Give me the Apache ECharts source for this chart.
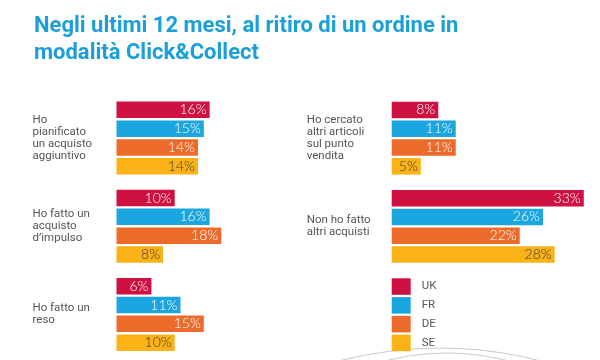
<!DOCTYPE html>
<html>
<head>
<meta charset="utf-8">
<script src="https://cdn.jsdelivr.net/npm/echarts@6/dist/echarts.min.js"></script>
<style>html,body{margin:0;padding:0;background:#fff}#c{width:600px;height:360px}</style>
</head>
<body>
<div id="c"></div>
<script>
// ---- data ----
var titleText = 'Negli ultimi 12 mesi, al ritiro di un ordine in\nmodalità Click&Collect';
var countries = ['UK', 'FR', 'DE', 'SE'];
var leftCategories = ['Ho\npianificato\nun acquisto\naggiuntivo', 'Ho fatto un\nacquisto\nd\u2019impulso', 'Ho fatto un\nreso'];
var rightCategories = ['Ho cercato\naltri articoli\nsul punto\nvendita', 'Non ho fatto\naltri acquisti'];
var ukLeft = [16, 10, 6],  ukRight = [8, 33];
var frLeft = [15, 16, 11], frRight = [11, 26];
var deLeft = [14, 18, 15], deRight = [11, 22];
var seLeft = [14, 8, 10],  seRight = [5, 28];

// ---- styles / layout ----
var colors = ['#cf1141', '#1ba6df', '#ec6b2b', '#fbb217'];
var labelColors = ['#ffffff', '#ffffff', '#ffffff', '#3d3d3d'];
var leftShift = [-6, -11.5, -5.5];
var rightShift = [3.5, -6];
var leftValues = [ukLeft, frLeft, deLeft, seLeft];
var rightValues = [ukRight, frRight, deRight, seRight];

var axisLabelBase = { color: '#555', fontFamily: 'Roboto', fontSize: 11.5, lineHeight: 12.3, align: 'left', verticalAlign: 'middle' };

function catData(cats, shifts) {
  return cats.map(function (c, i) {
    var d = shifts[i];
    return { value: c, textStyle: Object.assign({}, axisLabelBase, { padding: d < 0 ? [0, 0, -2 * d, 0] : [2 * d, 0, 0, 0] }) };
  });
}

var series = [];
countries.forEach(function (name, k) {
  [0, 1].forEach(function (g) {
    series.push({
      name: name,
      type: 'bar',
      xAxisIndex: g, yAxisIndex: g,
      data: g === 0 ? leftValues[k] : rightValues[k],
      barWidth: 16.5,
      barGap: '14%',
      itemStyle: { color: colors[k] },
      label: {
        show: true, position: 'insideRight', distance: 3,
        formatter: '{c}%', color: labelColors[k],
        fontFamily: 'Lato', fontWeight: 300, fontSize: 14
      },
      emphasis: { disabled: true },
      animation: false
    });
  });
});

var option = {
  animation: false,
  title: {
    text: titleText, left: 29, top: 8,
    textStyle: { color: '#1a9fd9', fontFamily: 'Roboto', fontWeight: 'bold', fontSize: 22, lineHeight: 27 }
  },
  legend: {
    orient: 'vertical', left: 391.7, top: 278.3, padding: 0,
    data: countries, icon: 'rect', itemWidth: 19, itemHeight: 16.5, itemGap: 2.3,
    textStyle: { color: '#555', fontFamily: 'Roboto', fontSize: 11.5, padding: [0, 0, 0, 6] },
    selectedMode: false
  },
  grid: [
    { left: 116.5, top: 94, height: 264.5, width: 203.7, outerBoundsMode: 'none', containLabel: false },
    { left: 391.7, top: 94, height: 176.5, width: 203.7, outerBoundsMode: 'none', containLabel: false }
  ],
  xAxis: [
    { gridIndex: 0, type: 'value', min: 0, max: 35, show: false },
    { gridIndex: 1, type: 'value', min: 0, max: 35, show: false }
  ],
  yAxis: [
    { gridIndex: 0, type: 'category', inverse: true, data: catData(leftCategories, leftShift),
      axisLine: { show: false }, axisTick: { show: false },
      axisLabel: Object.assign({ margin: 84 }, axisLabelBase) },
    { gridIndex: 1, type: 'category', inverse: true, data: catData(rightCategories, rightShift),
      axisLine: { show: false }, axisTick: { show: false },
      axisLabel: Object.assign({ margin: 85 }, axisLabelBase) }
  ],
  graphic: [
    { type: 'arc', silent: true, shape: { cx: 440, cy: 748, r: 400, startAngle: Math.PI * 1.35, endAngle: Math.PI * 1.64 },
      style: { stroke: '#c9c9c9', lineWidth: 1, fill: null } },
    { type: 'arc', silent: true, shape: { cx: 447, cy: 597, r: 244, startAngle: Math.PI * 1.4, endAngle: Math.PI * 1.6 },
      style: { stroke: '#c9c9c9', lineWidth: 1, fill: null } }
  ],
  series: series
};
var chart = echarts.init(document.getElementById('c'), null, { renderer: 'canvas' });
chart.setOption(option);
</script>
</body>
</html>
